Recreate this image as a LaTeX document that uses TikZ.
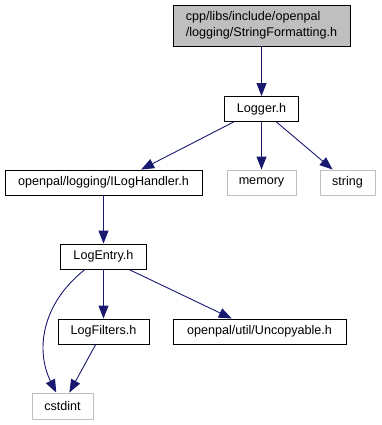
\documentclass[tikz,border=0pt]{standalone}
\usepackage{fontspec}
\setmainfont{Liberation Sans}
\usetikzlibrary{arrows.meta}
\definecolor{edgeblue}{HTML}{191970}
\definecolor{extgray}{HTML}{BFBFBF}
\begin{document}
\begin{tikzpicture}[x=1pt,y=-1pt,
  every node/.style={font=\fontsize{12.6}{16}\selectfont, inner sep=0pt, line width=0.9pt},
  hdr/.style={draw=black, fill=white, minimum height=25pt},
  ext/.style={draw=extgray, fill=white, minimum height=25pt},
  cur/.style={draw=black, fill=extgray, align=left, minimum height=41pt},
  dep/.style={draw=edgeblue, line width=0.9pt, -{Triangle[length=13pt,width=10pt]}}]
\useasboundingbox (0,0) rectangle (381,425);

% files
\node[cur, minimum width=177pt] (top) at (261.5,25.5) {cpp/libs/include/openpal\\/logging/StringFormatting.h};
\node[hdr, minimum width=74pt] (logger) at (261.5,109) {Logger.h};
\node[hdr, minimum width=197pt] (ilog) at (103.5,182.5) {openpal/logging/ILogHandler.h};
\node[ext, minimum width=69pt] (memory) at (261.5,182.5) {memory};
\node[ext, minimum width=55pt] (string) at (347.5,182.5) {string};
\node[hdr, minimum width=86pt] (logentry) at (103.5,256.5) {LogEntry.h};
\node[hdr, minimum width=91pt] (logfilters) at (103.5,331.5) {LogFilters.h};
\node[hdr, minimum width=173pt] (uncop) at (259.5,331.5) {openpal/util/Uncopyable.h};
\node[ext, minimum width=61pt, minimum height=26pt] (cstdint) at (62.5,406) {cstdint};

% include edges
\draw[dep] (top.south) -- (logger.north);
\draw[dep] (logger.205) -- (ilog.19);
\draw[dep] (logger.south) -- (memory.north);
\draw[dep] (logger.-41) -- (string.139);
\draw[dep] (ilog.south) -- (logentry.north);
\draw[dep] (logentry.215) .. controls (40,305) and (36,352) .. (cstdint.115);
\draw[dep] (logentry.south) -- (logfilters.north);
\draw[dep] (logentry.-27) -- (uncop.155);
\draw[dep] (logfilters.239) -- (cstdint.63);
\end{tikzpicture}
\end{document}
